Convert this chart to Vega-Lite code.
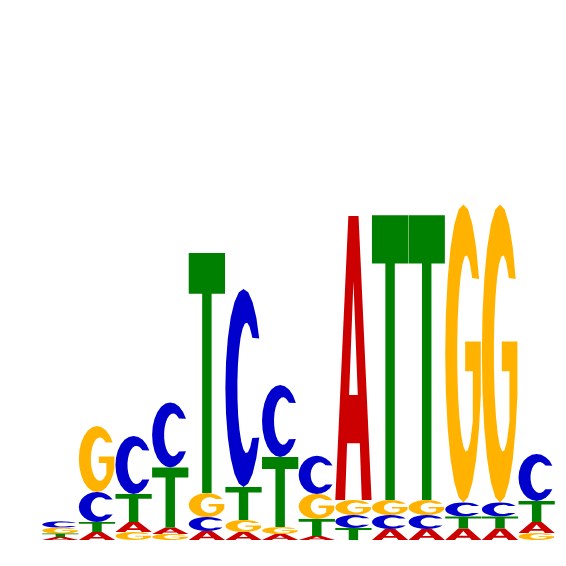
{
  "$schema": "https://vega.github.io/schema/vega-lite/v6.json",
  "autosize": {"type": "fit", "contains": "padding"},
  "width": 566,
  "height": 566,
  "padding": 0,
  "background": "white",
  "config": {"view": {"stroke": null}},
  "datasets": {
    "glyphs": [
      {"letter": "T", "gx": [0.37,0.63,0.63,1,1,0,0,0.37], "gy": [0,0,0.83,0.83,1,1,0.83,0.83]},
      {"letter": "A", "gx": [0,0.27,0.325,0.675,0.73,1,0.64,0.5,0.5,0.62,0.38,0.5,0.5,0.36], "gy": [0,0,0.2,0.2,0,0,1,1,0.77,0.37,0.37,0.77,1,1]},
      {"letter": "C", "gx": [0.933,0.854,0.75,0.629,0.5,0.371,0.25,0.146,0.067,0.017,0,0.017,0.067,0.146,0.25,0.371,0.5,0.629,0.75,0.854,0.933,0.741,0.686,0.623,0.558,0.495,0.437,0.389,0.353,0.334,0.331,0.345,0.375,0.419,0.474,0.537,0.602,0.666,0.723,0.741], "gy": [0.75,0.854,0.933,0.983,1,0.983,0.933,0.854,0.75,0.629,0.5,0.371,0.25,0.146,0.067,0.017,0,0.017,0.067,0.146,0.25,0.247,0.201,0.175,0.171,0.190,0.230,0.288,0.360,0.443,0.529,0.613,0.689,0.753,0.799,0.825,0.829,0.810,0.770,0.753]},
      {"letter": "G", "gx": [0.933,0.854,0.75,0.629,0.5,0.371,0.25,0.146,0.067,0.017,0,0.017,0.067,0.146,0.25,0.371,0.5,0.629,0.75,0.854,0.933,0.981,0.98,0.55,0.55,0.76,0.76,0.686,0.623,0.558,0.495,0.437,0.389,0.353,0.334,0.331,0.345,0.375,0.419,0.474,0.537,0.602,0.666,0.723,0.741], "gy": [0.75,0.854,0.933,0.983,1,0.983,0.933,0.854,0.75,0.629,0.5,0.371,0.25,0.146,0.067,0.017,0,0.017,0.067,0.146,0.25,0.362,0.54,0.54,0.44,0.44,0.271,0.201,0.175,0.171,0.190,0.230,0.288,0.360,0.443,0.529,0.613,0.689,0.753,0.799,0.825,0.829,0.810,0.770,0.753]}
    ],
    "logo": [
      {"pos": 1, "letter": "A", "bits": 0.018}, {"pos": 1, "letter": "C", "bits": 0.037}, {"pos": 1, "letter": "G", "bits": 0.035}, {"pos": 1, "letter": "T", "bits": 0.02},
      {"pos": 2, "letter": "A", "bits": 0.047}, {"pos": 2, "letter": "C", "bits": 0.176}, {"pos": 2, "letter": "G", "bits": 0.388}, {"pos": 2, "letter": "T", "bits": 0.059},
      {"pos": 3, "letter": "A", "bits": 0.059}, {"pos": 3, "letter": "C", "bits": 0.341}, {"pos": 3, "letter": "G", "bits": 0.047}, {"pos": 3, "letter": "T", "bits": 0.165},
      {"pos": 4, "letter": "A", "bits": 0.038}, {"pos": 4, "letter": "C", "bits": 0.382}, {"pos": 4, "letter": "G", "bits": 0.036}, {"pos": 4, "letter": "T", "bits": 0.353},
      {"pos": 5, "letter": "A", "bits": 0.053}, {"pos": 5, "letter": "C", "bits": 0.082}, {"pos": 5, "letter": "G", "bits": 0.141}, {"pos": 5, "letter": "T", "bits": 1.412},
      {"pos": 6, "letter": "A", "bits": 0.047}, {"pos": 6, "letter": "C", "bits": 1.165}, {"pos": 6, "letter": "G", "bits": 0.071}, {"pos": 6, "letter": "T", "bits": 0.194},
      {"pos": 7, "letter": "A", "bits": 0.035}, {"pos": 7, "letter": "C", "bits": 0.424}, {"pos": 7, "letter": "G", "bits": 0.041}, {"pos": 7, "letter": "T", "bits": 0.412},
      {"pos": 8, "letter": "A", "bits": 0.024}, {"pos": 8, "letter": "C", "bits": 0.224}, {"pos": 8, "letter": "G", "bits": 0.147}, {"pos": 8, "letter": "T", "bits": 0.1},
      {"pos": 9, "letter": "A", "bits": 1.671}, {"pos": 9, "letter": "C", "bits": 0.076}, {"pos": 9, "letter": "G", "bits": 0.088}, {"pos": 9, "letter": "T", "bits": 0.071},
      {"pos": 10, "letter": "A", "bits": 0.065}, {"pos": 10, "letter": "C", "bits": 0.082}, {"pos": 10, "letter": "G", "bits": 0.088}, {"pos": 10, "letter": "T", "bits": 1.676},
      {"pos": 11, "letter": "A", "bits": 0.065}, {"pos": 11, "letter": "C", "bits": 0.082}, {"pos": 11, "letter": "G", "bits": 0.088}, {"pos": 11, "letter": "T", "bits": 1.676},
      {"pos": 12, "letter": "A", "bits": 0.068}, {"pos": 12, "letter": "C", "bits": 0.082}, {"pos": 12, "letter": "G", "bits": 1.753}, {"pos": 12, "letter": "T", "bits": 0.071},
      {"pos": 13, "letter": "A", "bits": 0.068}, {"pos": 13, "letter": "C", "bits": 0.082}, {"pos": 13, "letter": "G", "bits": 1.753}, {"pos": 13, "letter": "T", "bits": 0.071},
      {"pos": 14, "letter": "A", "bits": 0.065}, {"pos": 14, "letter": "C", "bits": 0.276}, {"pos": 14, "letter": "G", "bits": 0.041}, {"pos": 14, "letter": "T", "bits": 0.124}
    ]
  },
  "data": {"name": "logo"},
  "transform": [
    {"stack": "bits", "groupby": ["pos"], "sort": [{"field": "bits", "order": "ascending"}], "as": ["y0", "y1"]},
    {"lookup": "letter", "from": {"data": {"name": "glyphs"}, "key": "letter", "fields": ["gx", "gy"]}},
    {"flatten": ["gx", "gy"]},
    {"window": [{"op": "row_number", "as": "k"}], "groupby": ["pos", "letter"]},
    {"calculate": "datum.pos - 0.495 + datum.gx * 0.99", "as": "px"},
    {"calculate": "datum.y0 + datum.gy * (datum.y1 - datum.y0)", "as": "py"}
  ],
  "mark": {"type": "line", "interpolate": "linear-closed", "strokeWidth": 0},
  "encoding": {
    "x": {"field": "px", "type": "quantitative", "scale": {"domain": [-0.6463, 14.8013], "nice": false, "zero": false}, "axis": null},
    "y": {"field": "py", "type": "quantitative", "scale": {"domain": [-0.1529, 3.1765], "nice": false, "zero": false}, "axis": null},
    "detail": [{"field": "pos", "type": "nominal"}, {"field": "letter", "type": "nominal"}],
    "order": {"field": "k", "type": "quantitative"},
    "fill": {"field": "letter", "type": "nominal", "scale": {"domain": ["A", "C", "G", "T"], "range": ["#CC0000", "#0000CC", "#FFB300", "#008000"]}, "legend": null}
  }
}
